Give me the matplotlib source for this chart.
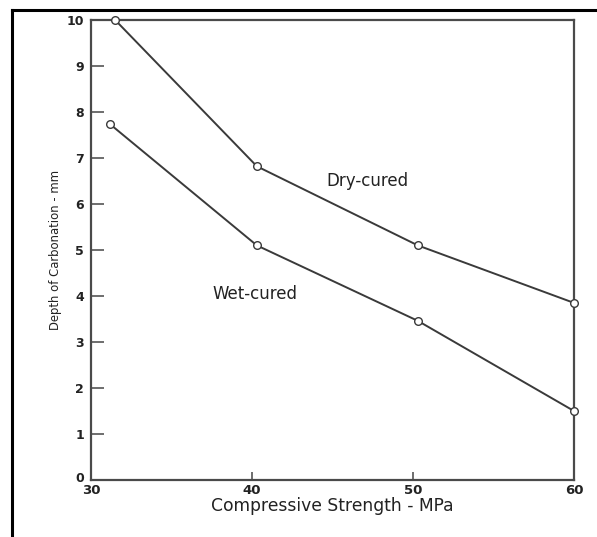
import matplotlib
matplotlib.use("Agg")
import matplotlib.pyplot as plt
from matplotlib.lines import Line2D
from matplotlib.transforms import ScaledTranslation

plt.rcParams['font.family'] = ['DejaVu Sans']

dry_x = [31.5, 40.3, 50.3, 60.0]
dry_y = [10.0, 6.82, 5.1, 3.85]
wet_x = [31.2, 40.3, 50.3, 60.0]
wet_y = [7.73, 5.1, 3.46, 1.5]
x_ticks = [30, 40, 50, 60]
y_ticks = list(range(0, 11))

W, H = 597, 537
fig = plt.figure(figsize=(W / 100, H / 100), dpi=100)
ax = fig.add_axes([91 / W, 1 - 480 / H, (574 - 91) / W, (480 - 20) / H])

# outer frame of the picture (left and top edges)
fig.add_artist(Line2D([12 / W, 12 / W], [0, 1 - 10 / H], transform=fig.transFigure,
                      color='black', lw=2.2))
fig.add_artist(Line2D([12 / W, 1], [1 - 10 / H, 1 - 10 / H], transform=fig.transFigure,
                      color='black', lw=2.2))

lc = '#3a3a3a'
for xs, ys in [(dry_x, dry_y), (wet_x, wet_y)]:
    ax.plot(xs, ys, color=lc, lw=1.4, marker='o', ms=5.5, mfc='white',
            mec=lc, mew=1.0, clip_on=False, zorder=3)

ax.set_xlim(30, 60)
ax.set_ylim(0, 10)
ax.set_xticks(x_ticks)
ax.set_yticks(y_ticks)
ax.tick_params(axis='y', direction='in', length=9, width=1.2, color='#555555',
               labelsize=9, pad=5, labelcolor='#222222')
ax.tick_params(axis='x', direction='in', length=6, width=1.2, color='#555555',
               labelsize=9.5, pad=3, labelcolor='#222222')
for lab in ax.get_xticklabels() + ax.get_yticklabels():
    lab.set_fontweight('bold')
for s in ax.spines.values():
    s.set_color('#4a4a4a')
    s.set_linewidth(1.6)

# lift the "0" label slightly as in the reference
fig.canvas.draw()
zero_lab = ax.get_yticklabels()[0]
zero_lab.set_transform(zero_lab.get_transform() + ScaledTranslation(0, 3 / 100, fig.dpi_scale_trans))

ax.set_xlabel('Compressive Strength - MPa', fontsize=12.3, color='#222222', labelpad=0)
ax.set_ylabel('Depth of Carbonation - mm', fontsize=8.4, color='#222222', labelpad=3)

ax.text(47.2, 6.5, 'Dry-cured', fontsize=12, ha='center', va='center', color='#222222')
ax.text(40.2, 4.05, 'Wet-cured', fontsize=12, ha='center', va='center', color='#222222')

fig.savefig('out.png', dpi=100)
